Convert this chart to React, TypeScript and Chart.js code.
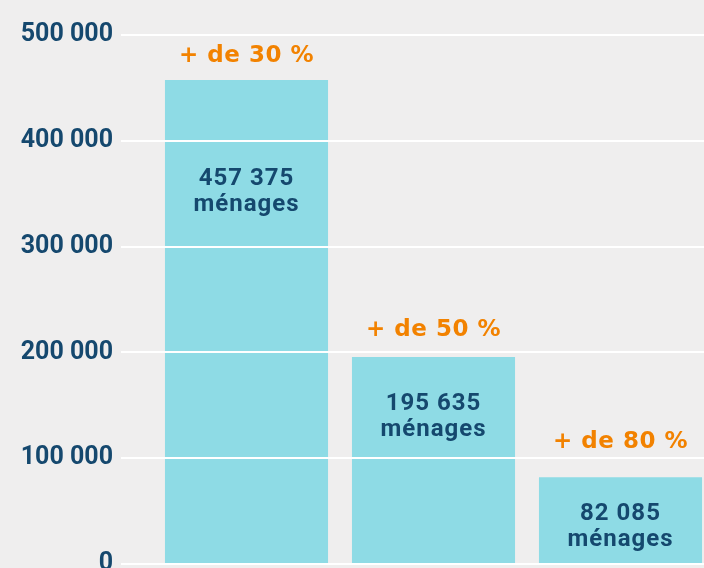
import React, { useEffect, useRef } from "react";
import { Chart, registerables } from "chart.js";

Chart.register(...registerables);

// ---- data ----
const CATEGORIES = ["+ de 30 %", "+ de 50 %", "+ de 80 %"];
const HOUSEHOLDS = [457375, 195635, 82085];
const VALUE_LABELS = ["457 375", "195 635", "82 085"];
const UNIT_LABEL = "ménages";
const Y_MIN = 0;
const Y_MAX = 500000;
const Y_STEP = 100000;

// ---- styling / layout ----
const BG = "#efeeee";
const BAR = "#8edbe5";
const NAVY = "#15486e";
const ORANGE = "#f28200";
const TOP_LABEL_GAP = [18, 21, 29];
const INNER_LABEL_OFFSET = [105, 53, 43];
const INNER_LINE_GAP = 26;

const fmt = (v: number) => String(v).replace(/\B(?=(\d{3})+(?!\d))/g, " ");

const labelPlugin = {
  id: "barLabels",
  afterDraw(chart: any) {
    const ctx = chart.ctx;
    const meta = chart.getDatasetMeta(0);
    ctx.save();
    ctx.textAlign = "center";
    ctx.textBaseline = "alphabetic";
    meta.data.forEach((el: any, i: number) => {
      const x = el.x;
      const top = el.y;
      // orange category label above bar
      ctx.fillStyle = ORANGE;
      ctx.font = "bold 23px 'DejaVu Sans'";
      (ctx as any).letterSpacing = "0.5px";
      ctx.fillText(CATEGORIES[i], x, top - TOP_LABEL_GAP[i]);
      // inner value labels
      ctx.fillStyle = NAVY;
      ctx.font = "bold 24px Roboto";
      (ctx as any).letterSpacing = "1px";
      const y1 = top + INNER_LABEL_OFFSET[i];
      ctx.fillText(VALUE_LABELS[i], x, y1);
      ctx.fillText(UNIT_LABEL, x, y1 + INNER_LINE_GAP);
    });
    ctx.restore();
  },
};

export default function App() {
  const ref = useRef<HTMLCanvasElement | null>(null);

  useEffect(() => {
    if (!ref.current) return;
    const chart = new Chart(ref.current, {
      type: "bar",
      data: {
        labels: CATEGORIES,
        datasets: [
          {
            data: HOUSEHOLDS,
            backgroundColor: BAR,
            borderWidth: 0,
            barPercentage: 0.872,
            categoryPercentage: 1,
          },
        ],
      },
      options: {
        responsive: false,
        animation: false,
        layout: { padding: { left: 0, right: 8, top: 35, bottom: 36 } },
        plugins: {
          legend: { display: false },
          tooltip: { enabled: false },
        },
        scales: {
          x: { display: false, offset: true },
          y: {
            min: Y_MIN,
            max: Y_MAX,
            ticks: {
              stepSize: Y_STEP,
              padding: 8,
              color: NAVY,
              font: { family: "Roboto", weight: "bold", size: 25 },
              callback: (v: any) => fmt(Number(v)),
            },
            grid: {
              color: "#ffffff",
              lineWidth: 2,
              tickLength: 32,
              tickColor: "#ffffff",
              z: 1,
            },
            border: { display: false },
            afterFit: (s: any) => {
              s.width = 153;
            },
          },
        },
      } as any,
      plugins: [labelPlugin],
    });
    return () => chart.destroy();
  }, []);

  return (
    <div
      style={{
        position: "absolute",
        left: 0,
        top: 0,
        width: 704,
        height: 568,
        overflow: "hidden",
        background: BG,
      }}
    >
      <canvas ref={ref} width={722} height={600} style={{ display: "block", width: 722, height: 600 }} />
    </div>
  );
}
